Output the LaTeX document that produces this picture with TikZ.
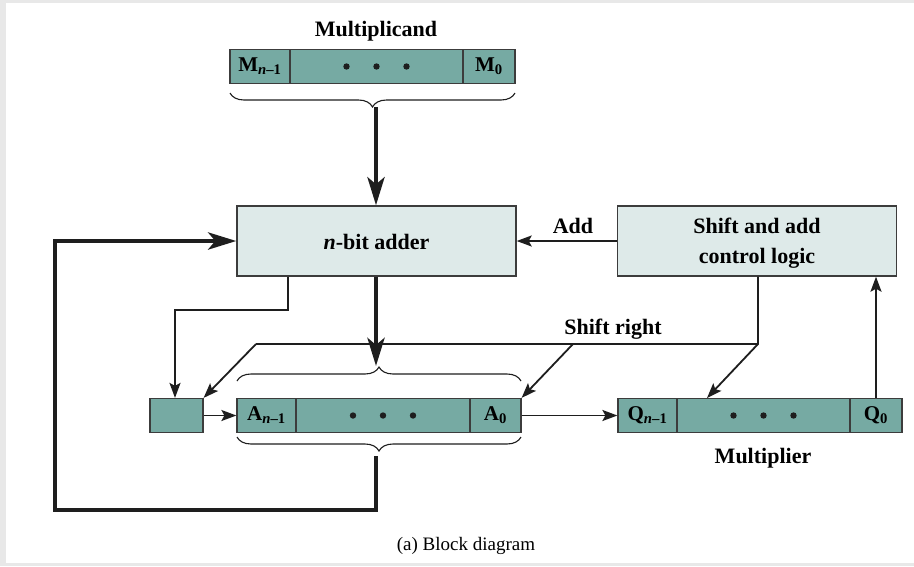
\documentclass[tikz,border=0pt]{standalone}
\usepackage{fontspec}
\setmainfont{Liberation Serif}
\usetikzlibrary{arrows.meta,decorations.pathreplacing}

\definecolor{regfill}{RGB}{118,170,163}
\definecolor{boxfill}{RGB}{222,234,233}
\definecolor{ink}{RGB}{30,30,30}
\definecolor{edge}{RGB}{60,60,60}
\definecolor{frame}{RGB}{232,232,232}

\tikzset{
  cell/.style={draw=edge, line width=1.2pt, fill=regfill, inner sep=0pt,
    minimum height=34pt, font=\bfseries\fontsize{21}{22}\selectfont},
  unit/.style={draw=edge, line width=1.4pt, fill=boxfill, inner sep=0pt,
    minimum width=279pt, minimum height=70pt},
  lbl/.style={inner sep=0pt, align=center, font=\bfseries\fontsize{22}{30}\selectfont},
  thin/.style={draw=ink, line width=1.8pt},
  thick/.style={draw=ink, line width=4.6pt},
  thinarr/.style={thin, -{Stealth[length=15pt, width=11pt, inset=3pt]}},
  thickarr/.style={thick, -{Stealth[length=28pt, width=17pt, inset=7pt]}},
  curly/.style={draw=ink, line width=1.1pt,
    decorate, decoration={brace, amplitude=14pt, aspect=0.5}},
  regdot/.style={fill=ink},
}
% three dots in the middle cell of a register
\newcommand{\threedots}[1]{%
  \fill[regdot] (#1) ++(-30,0) circle (3.2) ++(30,0) circle (3.2) ++(30,0) circle (3.2);}

\begin{document}
\begin{tikzpicture}[x=1pt, y=-1pt]
  % page and its thin grey frame
  \useasboundingbox (0,0) rectangle (914,566);
  \fill[frame] (0,0) rectangle (914,566);
  \fill[white] (6,3) rectangle (914,563);

  % multiplicand register
  \node[lbl] (mlabel) at (376,31) {Multiplicand};
  \node[cell, minimum width=60pt]  (mhi)  at (260,66.5) {M\textsubscript{\textit{n}–1}};
  \node[cell, minimum width=173pt] (mmid) at (376.5,66.5) {};
  \node[cell, minimum width=52pt]  (mlo)  at (489,66.5) {M\textsubscript{0}};
  \threedots{mmid.center}
  \draw[curly] (515,93) -- (230,93);
  \coordinate (mtip) at (376,107);

  % adder and control logic
  \node[unit] (adder) at (376.5,241) {};
  \node[lbl] (addertext) at (376.5,242) {\textit{n}-bit adder};
  \node[unit] (ctrl) at (757,241) {};
  \node[lbl] (ctrltext) at (757,243) {Shift and add\\control logic};
  \node[lbl] (addlbl) at (573,226) {Add};

  % accumulator register and the carry bit
  \node[cell, minimum width=53pt] (carry) at (176.5,415.5) {};
  \node[cell, minimum width=59pt]  (ahi)  at (266.5,415.5) {A\textsubscript{\textit{n}–1}};
  \node[cell, minimum width=174pt] (amid) at (383,415.5) {};
  \node[cell, minimum width=51pt]  (alo)  at (495.5,415.5) {A\textsubscript{0}};
  \threedots{amid.center}
  \draw[curly] (237,381) -- (521,381);
  \draw[curly] (521,437) -- (237,437);
  \coordinate (atop) at (376,366);
  \coordinate (abot) at (376,456);

  % multiplier register
  \node[cell, minimum width=59pt]  (qhi)  at (647.5,415.5) {Q\textsubscript{\textit{n}–1}};
  \node[cell, minimum width=173pt] (qmid) at (763.5,415.5) {};
  \node[cell, minimum width=52pt]  (qlo)  at (876,415.5) {Q\textsubscript{0}};
  \threedots{qmid.center}
  \node[lbl] (qlabel) at (763,458) {Multiplier};

  \node[lbl] (shlbl) at (613,329) {Shift right};
  \node[inner sep=0pt, font=\fontsize{19}{20}\selectfont] (caption) at (466,546) {(a) Block diagram};

  % data paths
  \draw[thickarr] (mtip) -- (adder.north -| mtip);
  \draw[thickarr] (adder.south -| atop) -- (atop);
  \draw[thickarr] (abot) -- (376,510) -- (55,510) -- (55,241) -- (adder.west);
  \draw[thinarr] (adder.south -| 288,0) -- (288,310) -- (175,310) -- (carry.north -| 175,0);
  \draw[thinarr] (ctrl.west) -- (adder.east);
  \draw[thinarr] (carry.east) -- (ahi.west);
  \draw[thinarr] (alo.east) -- (qhi.west);
  \draw[thinarr] (qlo.north) -- (qlo.north |- ctrl.south);

  % shift-right control lines
  \coordinate (sr) at (758,344);
  \coordinate (srl) at (256,344);
  \coordinate (srm) at (573,344);
  \draw[thinarr] (ctrl.south -| sr) -- (sr) -- (707,398);
  \draw[thin] (sr) -- (srl);
  \draw[thinarr] (srl) -- (carry.north east);
  \draw[thinarr] (srm) -- (alo.north east);
\end{tikzpicture}
\end{document}
